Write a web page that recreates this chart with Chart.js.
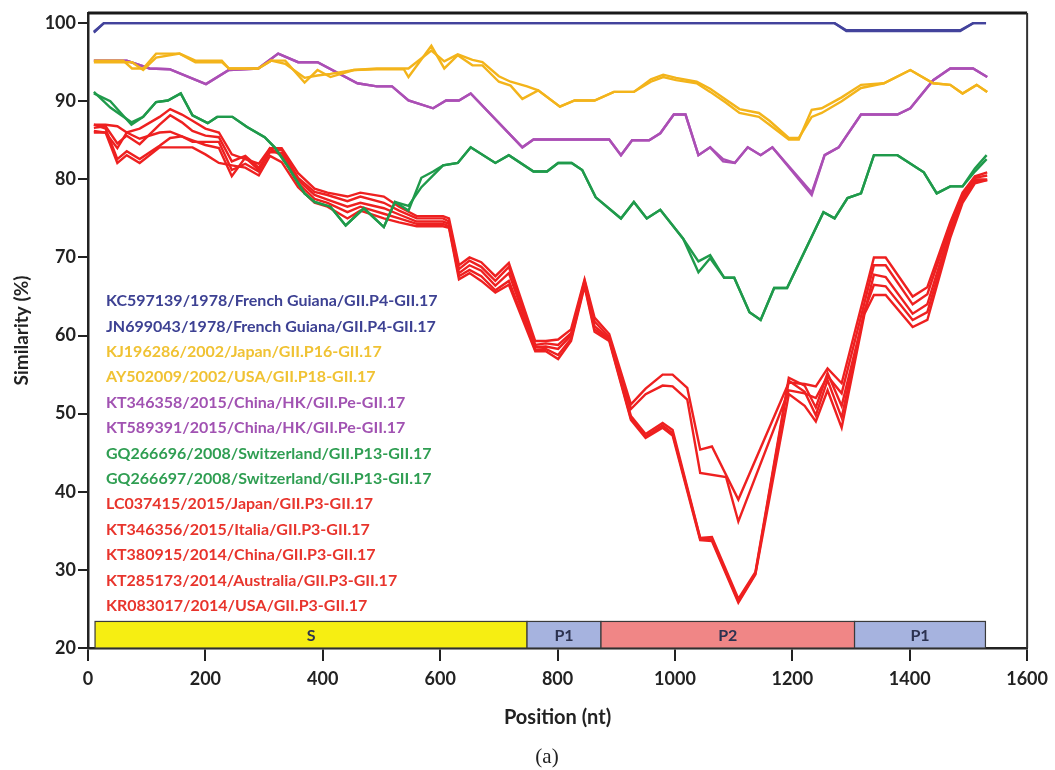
<!DOCTYPE html>
<html>
<head>
<meta charset="utf-8">
<script src="https://cdn.jsdelivr.net/npm/chart.js@4.4.1/dist/chart.umd.min.js"></script>
<style>
  html, body { margin: 0; padding: 0; background: #fff; }
  #wrap { width: 1055px; height: 770px; position: relative; }
</style>
</head>
<body>
<div id="wrap"><canvas id="chart1"></canvas></div>
<script>
/* ===============================
   data
================================ */
const xTicks = [0, 200, 400, 600, 800, 1000, 1200, 1400, 1600];
const yTicks = [20, 30, 40, 50, 60, 70, 80, 90, 100];

const seriesNames = [
  'KC597139/1978/French Guiana/GII.P4-GII.17',
  'JN699043/1978/French Guiana/GII.P4-GII.17',
  'KJ196286/2002/Japan/GII.P16-GII.17',
  'AY502009/2002/USA/GII.P18-GII.17',
  'KT346358/2015/China/HK/GII.Pe-GII.17',
  'KT589391/2015/China/HK/GII.Pe-GII.17',
  'GQ266696/2008/Switzerland/GII.P13-GII.17',
  'GQ266697/2008/Switzerland/GII.P13-GII.17',
  'LC037415/2015/Japan/GII.P3-GII.17',
  'KT346356/2015/Italia/GII.P3-GII.17',
  'KT380915/2014/China/GII.P3-GII.17',
  'KT285173/2014/Australia/GII.P3-GII.17',
  'KR083017/2014/USA/GII.P3-GII.17'
];

// blue pair
const bluePos = [10, 27, 1272, 1292, 1486, 1508, 1530];
const kc597139 = [98.8, 100, 100, 99, 99, 100, 100];
const jn699043 = [98.9, 100, 100, 99.1, 99.1, 100, 100];

// yellow pair
const yellowPos = [10, 60, 75, 94, 116, 156, 183, 228, 240, 290, 312, 336, 369, 391, 413, 453, 492, 518, 538, 546,
  585, 607, 630, 655, 672, 700, 720, 740, 748, 767, 804, 829, 863, 896, 930, 959, 980, 1002, 1037, 1060,
  1087, 1110, 1143, 1161, 1194, 1211, 1233, 1250, 1284, 1317, 1356, 1401, 1440, 1469, 1490, 1514, 1532];
const kj196286 = [95.2, 95.2, 94.2, 94.2, 96.1, 96.1, 95.0, 95.0, 94.2, 94.2, 95.2, 95.2, 92.4, 94.0, 93.1, 94.0, 94.1, 94.1, 94.1, 93.1,
  97.1, 94.2, 95.9, 94.6, 94.6, 92.5, 92.0, 90.3, null, 91.4, 89.3, 90.1, 90.1, 91.2, 91.2, 92.5, 93.1, 92.7, 92.3, 91.2,
  89.8, 88.5, 88.0, 87.0, 85.1, 85.1, 88.9, 89.1, 90.5, 92.1, 92.3, 94.0, 92.3, 92.1, 91.0, 92.1, 91.2];
const ay502009 = [95.0, 95.0, 95.0, 94.0, 95.6, 96.1, 95.2, 95.2, 94.2, 94.2, 95.2, 94.8, 93.0, 93.3, 93.5, 94.0, 94.2, 94.2, null, 94.2,
  96.5, 95.1, 96.0, 95.3, 95.0, 93.2, 92.5, null, 91.9, 91.4, 89.3, 90.1, 90.1, 91.2, 91.2, 92.8, 93.4, 93.0, 92.5, 91.6,
  90.2, 89.0, 88.5, 87.5, 85.3, 85.3, 88.0, 88.5, 90.0, 91.7, 92.3, 94.0, 92.3, 92.1, 91.0, 92.1, 91.2];

// purple pair
const purplePos = [10, 66, 105, 139, 201, 240, 290, 324, 358, 391, 459, 492, 518, 546, 588, 610, 632, 652, 740, 759,
  888, 908, 927, 956, 975, 998, 1018, 1040, 1060, 1082, 1102, 1124, 1146, 1166, 1233, 1255, 1279, 1317, 1379, 1401,
  1440, 1469, 1508, 1532];
const kt346358 = [95.2, 95.2, 94.2, 94.1, 92.2, 94.0, 94.2, 96.1, 95.0, 95.0, 92.3, 91.9, 91.9, 90.1, 89.1, 90.1, 90.1, 91.0, 84.1, 85.1,
  85.1, 83.1, 85.0, 85.0, 85.9, 88.3, 88.3, 83.1, 84.1, 82.3, 82.1, 84.1, 83.1, 84.1, 78.0, 83.1, 84.1, 88.3, 88.3, 89.1,
  92.7, 94.2, 94.2, 93.1];
const kt589391 = [95.2, 95.2, 94.2, 94.1, 92.2, 94.0, 94.2, 96.1, 95.0, 95.0, 92.3, 91.9, 91.9, 90.1, 89.1, 90.1, 90.1, 91.0, 84.1, 85.1,
  85.1, 83.1, 85.0, 85.0, 85.9, 88.3, 88.3, 83.1, 84.1, 82.6, 82.1, 84.1, 83.1, 84.1, 78.3, 83.1, 84.1, 88.3, 88.3, 89.1,
  92.7, 94.2, 94.2, 93.1];

// green pair
const greenPos = [10, 38, 74, 94, 116, 136, 158, 178, 204, 220, 246, 271, 301, 318, 341, 369, 386, 413, 439, 470,
  504, 523, 546, 568, 588, 605, 630, 652, 694, 717, 759, 782, 801, 824, 842, 865, 908, 930, 952, 975,
  1014, 1040, 1060, 1084, 1101, 1127, 1146, 1169, 1191, 1253, 1272, 1294, 1317, 1339, 1379, 1424, 1446, 1469, 1490, 1511, 1531];
const gq266696 = [91.2, 89.2, 87.3, 88.0, 89.9, 90.1, 91.0, 88.2, 87.2, 88.0, 88.0, 86.7, 85.4, 84.1, 81.6, 78.2, 77.1, 76.5, 74.1, 76.3,
  73.9, 77.1, 76.0, 80.2, 81.0, 81.8, 82.1, 84.1, 82.1, 83.1, 81.0, 81.0, 82.1, 82.1, 81.2, 77.7, 75.0, 77.1, 75.0, 76.1,
  72.4, 68.1, 69.9, 67.4, 67.4, 63.0, 62.0, 66.1, 66.1, 75.8, 75.0, 77.6, 78.2, 83.1, 83.1, 80.9, 78.2, 79.1, 79.1, 81.4, 83.1];
const gq266697 = [91.0, 90.0, 87.0, 88.0, 89.9, 90.1, 91.0, 88.2, 87.2, 88.0, 88.0, 86.7, 85.4, 84.1, 81.6, 78.2, 77.1, 76.5, 74.1, 76.3,
  73.9, 77.1, 76.6, 79.0, 80.5, 81.8, 82.1, 84.1, 82.1, 83.1, 81.0, 81.0, 82.1, 82.1, 81.2, 77.7, 75.0, 77.1, 75.0, 76.1,
  72.4, 69.5, 70.3, 67.4, 67.4, 63.0, 62.0, 66.1, 66.1, 75.8, 75.0, 77.6, 78.2, 83.1, 83.1, 80.9, 78.2, 79.1, 79.1, 81.0, 82.6];

// red group
const redPos = [10, 30, 50, 66, 88, 122, 140, 160, 178, 200, 223, 245, 268, 291, 310, 330, 358, 386, 408, 442,
  464, 504, 530, 560, 605, 615, 632, 650, 670, 694, 717, 762, 780, 801, 823, 846, 863, 888, 925, 950,
  979, 996, 1021, 1043, 1063, 1087, 1108, 1137, 1194, 1221, 1240, 1260, 1284, 1323, 1339, 1359, 1405, 1430, 1469, 1490,
  1511, 1532];
const lc037415 = [87.0, 87.0, 86.8, 86.0, 86.5, 88.0, 89.0, 88.3, 87.5, 86.5, 86.0, 83.2, 82.6, 82.0, 84.0, 84.0, 80.8, 78.8, 78.3, 77.8,
  78.3, 77.8, 76.5, 75.3, 75.3, 75.0, 69.0, 70.0, 69.4, 67.6, 69.3, 59.3, 59.3, 59.5, 60.8, 67.2, 62.3, 60.2, 51.2, 53.2,
  55.0, 55.0, 53.3, 45.4, 45.8, null, 39.0, null, 54.0, 53.8, 53.5, 55.8, 53.9, null, 70.0, 70.0, 65.0, 66.2, 74.5, 78.3,
  80.4, 80.9];
const kt346356 = [86.6, 86.8, 84.6, 85.6, 84.5, 87.0, 88.2, 87.3, 86.2, 85.6, 85.4, 82.3, 83.0, 81.5, 83.6, 83.8, 80.2, 78.4, 78.0, 77.2,
  77.8, 77.0, 76.0, 75.0, 75.0, 74.6, 68.5, 69.6, 68.8, 67.0, 68.8, 58.8, 59.0, 58.8, 60.3, 67.0, 61.8, 59.8, 50.6, 52.5,
  53.6, 53.5, 51.8, 42.4, null, 41.9, 36.2, null, 53.0, 52.6, 52.0, 54.8, 52.6, null, 69.0, 69.0, 64.0, 65.3, 74.0, 78.0,
  80.2, 80.5];
const kt380915 = [86.2, 86.0, 84.0, 86.0, 85.2, 86.0, 86.1, 85.5, 84.8, 84.8, 84.8, 81.2, 82.0, 81.0, 83.5, 83.4, 79.9, 78.0, 77.4, 76.5,
  77.0, 76.3, 75.5, 74.6, 74.6, 74.3, 68.0, 69.0, 68.3, 66.4, 68.0, 58.5, 58.6, 58.3, 60.0, 66.6, 61.2, 59.6, 49.7, 47.4,
  48.8, 47.9, null, 34.1, 34.2, null, 26.3, 29.7, 54.6, 53.6, 50.8, 55.2, 51.0, 63.0, 67.8, 67.5, 62.8, 64.0, 73.5, 77.6,
  80.0, 80.0];
const kt285173 = [87.0, 86.5, 82.6, 83.6, 82.6, 84.3, 85.3, 85.5, 85.0, 84.4, 84.0, 80.4, 82.8, 81.2, 84.0, 83.0, 79.5, 77.5, 77.0, 75.8,
  76.5, 75.6, 75.0, 74.3, 74.3, 74.0, 67.6, 68.4, 67.6, 65.8, 67.0, 58.2, 58.3, 57.5, 59.6, 66.5, 60.8, 59.5, 49.4, 47.1,
  48.5, 47.5, null, 34.0, 33.9, null, 26.0, 29.5, 54.2, 52.8, 49.8, 54.3, 49.5, 63.2, 66.5, 66.3, 62.0, 63.0, 73.0, 77.3,
  79.8, 79.9];
const kr083017 = [86.0, 86.0, 82.1, 83.1, 82.1, 84.1, 84.1, 84.1, 84.1, 83.2, 82.1, 81.8, 81.5, 80.5, 83.0, 82.2, 79.0, 77.0, 76.5, 75.0,
  76.0, 75.0, 74.5, 74.0, 74.0, 73.8, 67.2, 68.0, 67.0, 65.5, 66.5, 58.0, 58.0, 57.0, 59.3, 66.3, 60.5, 59.3, 49.2, 46.9,
  48.2, 47.2, null, 33.8, 33.7, null, 25.8, 29.4, 52.5, 51.0, 49.0, 53.0, 48.2, 62.8, 65.2, 65.2, 61.1, 62.0, 72.5, 77.0,
  79.5, 79.9];

// genome regions shown in the bar at the bottom
const domainNames = ['S', 'P1', 'P2', 'P1'];
const domainStart = [12, 748, 874, 1306];
const domainEnd = [748, 874, 1306, 1529];

/* ===============================
   styles
================================ */
const BLUE = '#43439c', YELLOW = '#f3b41b', PURPLE = '#ab4fb5', GREEN = '#1f9a4b', RED = '#ee2020';
const lineColors = [BLUE, BLUE, YELLOW, YELLOW, PURPLE, PURPLE, GREEN, GREEN, RED, RED, RED, RED, RED];
const textColors = ['#3d4193', '#3d4193', '#f0c233', '#f0c233', '#a152b2', '#a152b2', '#2f9e52', '#2f9e52',
  '#e8342c', '#e8342c', '#e8342c', '#e8342c', '#e8342c'];
const domainColors = ['#f6ee12', '#a6b3df', '#f08686', '#a6b3df'];

const seriesPos = [bluePos, bluePos, yellowPos, yellowPos, purplePos, purplePos, greenPos, greenPos,
  redPos, redPos, redPos, redPos, redPos];
const seriesVals = [kc597139, jn699043, kj196286, ay502009, kt346358, kt589391, gq266696, gq266697,
  lc037415, kt346356, kt380915, kt285173, kr083017];

const datasets = seriesNames.map((name, i) => ({
  label: name,
  data: seriesPos[i].map((p, j) => ({ x: p, y: seriesVals[i][j] })),
  borderColor: lineColors[i],
  backgroundColor: 'transparent',
  borderWidth: 2.4,
  pointRadius: 0,
  tension: 0,
  spanGaps: true
}));

/* ===============================
   extra drawing: box, region bar, legend text, caption
================================ */
const extras = {
  id: 'extras',
  afterDatasetsDraw(chart) {
    const { ctx, chartArea, scales } = chart;
    const xs = scales.x, ys = scales.y;
    ctx.save();

    // region bar
    const yTop = ys.getPixelForValue(23.4);
    const yBot = ys.getPixelForValue(20);
    domainNames.forEach((name, i) => {
      const x0 = xs.getPixelForValue(domainStart[i]);
      const x1 = xs.getPixelForValue(domainEnd[i]);
      ctx.fillStyle = domainColors[i];
      ctx.fillRect(x0, yTop, x1 - x0, yBot - yTop);
      ctx.strokeStyle = '#3a3a3a';
      ctx.lineWidth = 1.2;
      ctx.strokeRect(x0, yTop, x1 - x0, yBot - yTop);
      ctx.fillStyle = '#2c3250';
      ctx.font = 'bold 16px Lato';
      ctx.textAlign = 'center';
      ctx.textBaseline = 'middle';
      ctx.fillText(name, (x0 + x1) / 2, (yTop + yBot) / 2 + 1);
    });

    // legend text
    ctx.font = 'bold 16px Lato';
    ctx.textAlign = 'left';
    ctx.textBaseline = 'middle';
    seriesNames.forEach((name, i) => {
      ctx.fillStyle = textColors[i];
      ctx.fillText(name, 106, 301 + i * 25.4);
    });

    // top and right frame
    ctx.strokeStyle = '#1a1a1a';
    ctx.lineWidth = 3;
    ctx.beginPath();
    ctx.moveTo(chartArea.left, chartArea.top);
    ctx.lineTo(chartArea.right, chartArea.top);
    ctx.stroke();
    ctx.strokeStyle = '#333';
    ctx.lineWidth = 2;
    ctx.beginPath();
    ctx.moveTo(chartArea.right, chartArea.top);
    ctx.lineTo(chartArea.right, chartArea.bottom);
    ctx.stroke();
    ctx.restore();
  },
  afterDraw(chart) {
    const { ctx } = chart;
    ctx.save();
    ctx.fillStyle = '#222';
    ctx.font = '21px "Liberation Serif"';
    ctx.textAlign = 'center';
    ctx.textBaseline = 'middle';
    ctx.fillText('(a)', 547, 757);
    ctx.restore();
  }
};

/* ===============================
   chart
================================ */
const ctx = document.getElementById('chart1').getContext('2d');

const chart = new Chart(ctx, {
  type: 'line',
  data: { datasets },
  options: {
    responsive: true,
    maintainAspectRatio: false,
    animation: false,
    layout: { padding: { top: 13, right: 17, bottom: 0, left: 0 } },
    plugins: {
      legend: { display: false },
      tooltip: { enabled: false }
    },
    scales: {
      x: {
        type: 'linear',
        min: 0,
        max: 1600,
        afterFit: (s) => { s.height = 122; },
        afterBuildTicks: (s) => { s.ticks = xTicks.map(v => ({ value: v })); },
        border: { color: '#222', width: 2.5 },
        grid: { drawOnChartArea: false, drawTicks: true, tickLength: 13, color: '#222', lineWidth: 2 },
        ticks: {
          color: '#222',
          padding: 7,
          font: { family: 'Lato', size: 18, weight: 'bold' },
          callback: (v) => String(v)
        },
        title: {
          display: true,
          text: 'Position (nt)',
          color: '#222',
          font: { family: 'Lato', size: 20, weight: 'bold' },
          padding: { top: 0, bottom: 40 }
        }
      },
      y: {
        min: 20,
        max: 101.3,
        afterFit: (s) => { s.width = 88; },
        afterBuildTicks: (s) => { s.ticks = yTicks.map(v => ({ value: v })); },
        border: { color: '#222', width: 2.5 },
        grid: { drawOnChartArea: false, drawTicks: true, tickLength: 10, color: '#222', lineWidth: 2 },
        ticks: {
          color: '#222',
          padding: 2,
          font: { family: 'Lato', size: 18, weight: 'bold' },
          callback: (v) => String(v)
        },
        title: {
          display: true,
          text: 'Similarity (%)',
          color: '#222',
          font: { family: 'Lato', size: 19, weight: 'bold' },
          padding: { top: 10, bottom: 0 }
        }
      }
    }
  },
  plugins: [extras]
});
</script>
</body>
</html>
